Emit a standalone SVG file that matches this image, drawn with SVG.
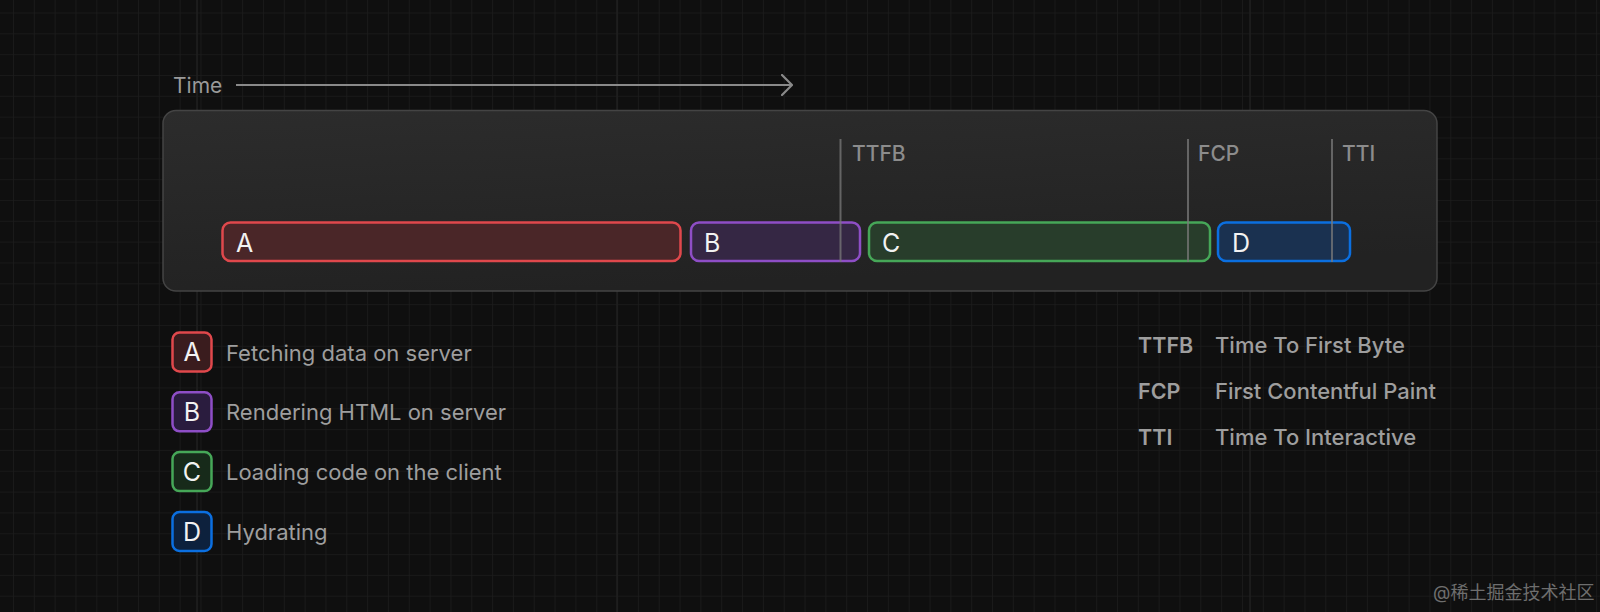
<svg xmlns="http://www.w3.org/2000/svg" width="1600" height="612" viewBox="0 0 1600 612">
  <defs>
    <pattern id="grid" x="13" y="12.5" width="20.83" height="20.83" patternUnits="userSpaceOnUse">
      <path d="M0 0 H20.83 M0 0 V20.83" fill="none" stroke="#1c1c1c" stroke-width="1.6"/>
    </pattern>
    <linearGradient id="panelFill" x1="0" y1="0" x2="0.3" y2="1">
      <stop offset="0" stop-color="#2c2c2c"/>
      <stop offset="1" stop-color="#222222"/>
    </linearGradient>
    <marker id="chev" viewBox="0 0 12 22" refX="11" refY="11" markerWidth="12" markerHeight="22" markerUnits="userSpaceOnUse" orient="auto">
      <path d="M1 1 L11 11 L1 21" fill="none" stroke="#8a8a8a" stroke-width="2.2" stroke-linecap="round" stroke-linejoin="round"/>
    </marker>
    <style>
      .t { font-family: Inter, "Noto Sans", "Liberation Sans", sans-serif; }
      .lbl { font-size: 21px; fill: #9a9a9a; }
      .mk { font-size: 21px; fill: #8c8c8c; font-weight: 500; }
      .bar { stroke-width: 2.5; }
      .bl { font-size: 25px; fill: #f2f2f2; }
      .leg { font-size: 22px; fill: #9e9e9e; }
      .ab { font-size: 21.5px; fill: #9e9e9e; font-weight: 600; }
      .ds { font-size: 22px; fill: #9e9e9e; font-weight: 500; }
      .line { stroke: #7a7a7a; stroke-opacity: 0.75; stroke-width: 2; }
      .red { stroke: #e0484c; fill: #4a2628; }
      .pur { stroke: #8e4ec6; fill: #352744; }
      .grn { stroke: #46a758; fill: #283d2b; }
      .blu { stroke: #0b6fe0; fill: #1a3150; }
      .redL { stroke: #e0484c; fill: #3a1c1e; }
      .purL { stroke: #8e4ec6; fill: #2a1c3e; }
      .grnL { stroke: #46a758; fill: #172a1a; }
      .bluL { stroke: #0b6fe0; fill: #0d213d; }
    </style>
  </defs>

  <rect x="0" y="0" width="1600" height="612" fill="#0f0f0f"/>
  <rect x="0" y="0" width="1600" height="612" fill="url(#grid)"/>
  <path d="M617 0 V612 M1250 0 V612 M197 0 V612" stroke="#202020" stroke-width="1.6"/>

  <g id="time-label">
    <text class="t lbl" x="173" y="92.5">Time</text>
  </g>

  <g id="panel">
    <rect x="163" y="110.5" width="1274" height="180.5" rx="13" fill="url(#panelFill)" stroke="#444444" stroke-width="1.5"/>
  </g>

  <g id="bar-A">
    <rect class="bar red" x="222.5" y="222.5" width="458" height="38.5" rx="8"/>
    <text class="t bl" x="236" y="251.5">A</text>
  </g>
  <g id="bar-B">
    <rect class="bar pur" x="691" y="222.5" width="169" height="38.5" rx="8"/>
    <text class="t bl" x="704" y="251.5">B</text>
  </g>
  <g id="bar-C">
    <rect class="bar grn" x="869" y="222.5" width="341" height="38.5" rx="8"/>
    <text class="t bl" x="882" y="251.5">C</text>
  </g>
  <g id="bar-D">
    <rect class="bar blu" x="1218" y="222.5" width="132" height="38.5" rx="8"/>
    <text class="t bl" x="1232" y="251.5">D</text>
  </g>

  <g id="marker-TTFB">
    <line class="line" x1="840.5" y1="139" x2="840.5" y2="262"/>
    <text class="t mk" x="852" y="161">TTFB</text>
  </g>
  <g id="marker-FCP">
    <line class="line" x1="1188" y1="139" x2="1188" y2="262"/>
    <text class="t mk" x="1198" y="161">FCP</text>
  </g>
  <g id="marker-TTI">
    <line class="line" x1="1332" y1="139" x2="1332" y2="262"/>
    <text class="t mk" x="1342" y="161">TTI</text>
  </g>

  <g id="connectors">
    <line x1="236" y1="85" x2="792" y2="85" stroke="#8a8a8a" stroke-width="2.2" marker-end="url(#chev)"/>
  </g>

  <g id="legend-A">
    <rect class="bar redL" x="172.5" y="332.5" width="39" height="39" rx="7"/>
    <text class="t bl" x="192" y="361" text-anchor="middle">A</text>
    <text class="t leg" x="226" y="360.5">Fetching data on server</text>
  </g>
  <g id="legend-B">
    <rect class="bar purL" x="172.5" y="392.3" width="39" height="39" rx="7"/>
    <text class="t bl" x="192" y="420.8" text-anchor="middle">B</text>
    <text class="t leg" x="226" y="420.3">Rendering HTML on server</text>
  </g>
  <g id="legend-C">
    <rect class="bar grnL" x="172.5" y="452.1" width="39" height="39" rx="7"/>
    <text class="t bl" x="192" y="480.6" text-anchor="middle">C</text>
    <text class="t leg" x="226" y="480.1">Loading code on the client</text>
  </g>
  <g id="legend-D">
    <rect class="bar bluL" x="172.5" y="512" width="39" height="39" rx="7"/>
    <text class="t bl" x="192" y="540.5" text-anchor="middle">D</text>
    <text class="t leg" x="226" y="540">Hydrating</text>
  </g>

  <g id="abbr-TTFB">
    <text class="t ab" x="1138" y="352.7">TTFB</text>
    <text class="t ds" x="1215" y="352.7">Time To First Byte</text>
  </g>
  <g id="abbr-FCP">
    <text class="t ab" x="1138" y="398.7">FCP</text>
    <text class="t ds" x="1215" y="398.7">First Contentful Paint</text>
  </g>
  <g id="abbr-TTI">
    <text class="t ab" x="1138" y="445">TTI</text>
    <text class="t ds" x="1215" y="445">Time To Interactive</text>
  </g>

  <g id="watermark">
    <text x="1433" y="599" font-family="Inter, 'Noto Sans CJK SC', sans-serif" font-size="18" fill="#6e6e6e">@稀土掘金技术社区</text>
  </g>
</svg>
